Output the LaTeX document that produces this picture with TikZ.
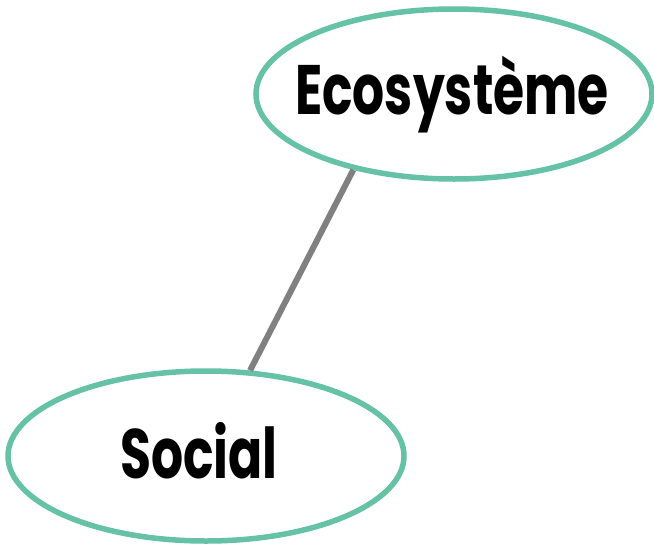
\documentclass[tikz,border=0pt]{standalone}
\usepackage{fontspec}
\newfontfamily\topicfont{Poppins}[UprightFont=* Bold, FakeStretch=0.72]
\usepackage{tikz}
\usetikzlibrary{shapes.geometric}
\definecolor{setgreen}{HTML}{66C2A5}
\definecolor{linkgray}{HTML}{808080}

\begin{document}
\begin{tikzpicture}[x=1pt, y=-1pt]
    \useasboundingbox (0,0) rectangle (654,547);
    \tikzset{
        topic/.style={draw=setgreen, line width=5.5pt, ellipse, minimum width=396pt, minimum height=170pt, inner sep=0pt},
        word/.style={font=\topicfont\fontsize{70}{76}\selectfont, text height=49pt, text depth=0pt, inner sep=0pt},
        link/.style={draw=linkgray, line width=6pt}
    }
    \node[topic, label={[word, xshift=-2pt, yshift=4pt]center:Ecosystème}] (eco) at (454,94) {};
    \node[topic, label={[word, xshift=-7pt, yshift=2pt]center:Social}] (soc) at (206,456) {};

    \draw[link] (eco.217) -- (soc);
\end{tikzpicture}
\end{document}
